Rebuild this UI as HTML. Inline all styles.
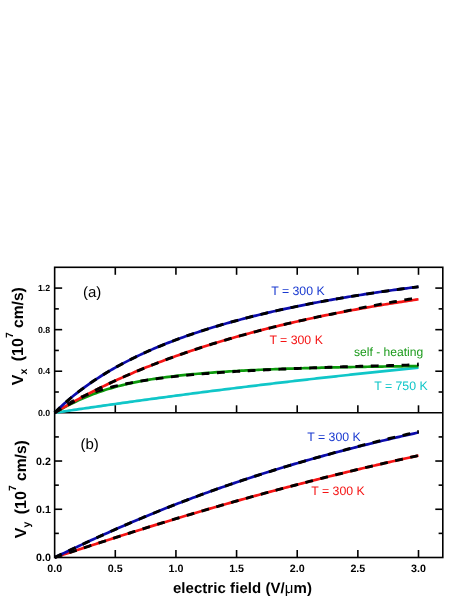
<!DOCTYPE html>
<html><head><meta charset="utf-8"><title>fig</title>
<style>html,body{margin:0;padding:0;background:#fff}svg{display:block;will-change:transform}text{font-family:"Liberation Sans",sans-serif;text-rendering:geometricPrecision}</style></head><body>
<svg width="471" height="610" viewBox="0 0 471 610">
<rect width="471" height="610" fill="#fff"/>
<line x1="54.65" y1="412.8" x2="442.8" y2="412.8" stroke="#000" stroke-width="1.6"/>
<g fill="none" stroke-linecap="butt" stroke-linejoin="round">
<path d="M54.65,412.80 L57.08,412.44 L59.50,412.08 L61.93,411.71 L64.35,411.35 L66.78,411.00 L69.20,410.64 L71.63,410.28 L74.06,409.92 L76.48,409.57 L78.91,409.21 L81.33,408.86 L83.76,408.50 L86.18,408.15 L88.61,407.80 L91.03,407.45 L93.46,407.10 L95.89,406.75 L98.31,406.40 L100.74,406.05 L103.16,405.71 L105.59,405.36 L108.01,405.02 L110.44,404.67 L112.87,404.33 L115.29,403.99 L117.72,403.64 L120.14,403.30 L122.57,402.96 L124.99,402.62 L127.42,402.29 L129.85,401.95 L132.27,401.61 L134.70,401.28 L137.12,400.94 L139.55,400.61 L141.97,400.27 L144.40,399.94 L146.83,399.61 L149.25,399.28 L151.68,398.95 L154.10,398.62 L156.53,398.29 L158.95,397.96 L161.38,397.64 L163.81,397.31 L166.23,396.98 L168.66,396.66 L171.08,396.34 L173.51,396.01 L175.93,395.69 L178.36,395.37 L180.78,395.05 L183.21,394.73 L185.64,394.41 L188.06,394.10 L190.49,393.78 L192.91,393.46 L195.34,393.15 L197.76,392.83 L200.19,392.52 L202.62,392.21 L205.04,391.89 L207.47,391.58 L209.89,391.27 L212.32,390.96 L214.74,390.66 L217.17,390.35 L219.60,390.04 L222.02,389.73 L224.45,389.43 L226.87,389.13 L229.30,388.82 L231.72,388.52 L234.15,388.22 L236.58,387.92 L239.00,387.62 L241.43,387.32 L243.85,387.02 L246.28,386.72 L248.70,386.42 L251.13,386.13 L253.55,385.83 L255.98,385.54 L258.41,385.24 L260.83,384.95 L263.26,384.66 L265.68,384.37 L268.11,384.08 L270.53,383.79 L272.96,383.50 L275.39,383.21 L277.81,382.93 L280.24,382.64 L282.66,382.35 L285.09,382.07 L287.51,381.79 L289.94,381.50 L292.37,381.22 L294.79,380.94 L297.22,380.66 L299.64,380.38 L302.07,380.10 L304.49,379.82 L306.92,379.55 L309.35,379.27 L311.77,379.00 L314.20,378.72 L316.62,378.45 L319.05,378.17 L321.47,377.90 L323.90,377.63 L326.32,377.36 L328.75,377.09 L331.18,376.82 L333.60,376.55 L336.03,376.29 L338.45,376.02 L340.88,375.76 L343.30,375.49 L345.73,375.23 L348.16,374.97 L350.58,374.70 L353.01,374.44 L355.43,374.18 L357.86,373.92 L360.28,373.66 L362.71,373.41 L365.14,373.15 L367.56,372.89 L369.99,372.64 L372.41,372.38 L374.84,372.13 L377.26,371.88 L379.69,371.62 L382.12,371.37 L384.54,371.12 L386.97,370.87 L389.39,370.62 L391.82,370.38 L394.24,370.13 L396.67,369.88 L399.09,369.64 L401.52,369.39 L403.95,369.15 L406.37,368.91 L408.80,368.66 L411.22,368.42 L413.65,368.18 L416.07,367.94 L418.50,367.70" stroke="#10c6c8" stroke-width="2.7"/>
<path d="M54.65,412.80 L57.08,411.43 L59.50,410.07 L61.93,408.73 L64.35,407.42 L66.78,406.13 L69.20,404.87 L71.63,403.64 L74.06,402.44 L76.48,401.27 L78.91,400.13 L81.33,399.03 L83.76,397.97 L86.18,396.94 L88.61,395.94 L91.03,394.97 L93.46,394.04 L95.89,393.13 L98.31,392.26 L100.74,391.42 L103.16,390.61 L105.59,389.83 L108.01,389.08 L110.44,388.35 L112.87,387.65 L115.29,386.97 L117.72,386.32 L120.14,385.69 L122.57,385.08 L124.99,384.50 L127.42,383.94 L129.85,383.39 L132.27,382.87 L134.70,382.36 L137.12,381.87 L139.55,381.40 L141.97,380.95 L144.40,380.51 L146.83,380.08 L149.25,379.67 L151.68,379.28 L154.10,378.89 L156.53,378.52 L158.95,378.16 L161.38,377.82 L163.81,377.48 L166.23,377.16 L168.66,376.84 L171.08,376.54 L173.51,376.25 L175.93,375.96 L178.36,375.68 L180.78,375.42 L183.21,375.16 L185.64,374.90 L188.06,374.66 L190.49,374.42 L192.91,374.19 L195.34,373.97 L197.76,373.75 L200.19,373.54 L202.62,373.34 L205.04,373.14 L207.47,372.94 L209.89,372.76 L212.32,372.57 L214.74,372.39 L217.17,372.22 L219.60,372.05 L222.02,371.89 L224.45,371.73 L226.87,371.57 L229.30,371.42 L231.72,371.27 L234.15,371.13 L236.58,370.99 L239.00,370.85 L241.43,370.72 L243.85,370.59 L246.28,370.47 L248.70,370.34 L251.13,370.22 L253.55,370.10 L255.98,369.99 L258.41,369.88 L260.83,369.77 L263.26,369.66 L265.68,369.56 L268.11,369.45 L270.53,369.36 L272.96,369.26 L275.39,369.16 L277.81,369.07 L280.24,368.98 L282.66,368.89 L285.09,368.80 L287.51,368.72 L289.94,368.64 L292.37,368.56 L294.79,368.48 L297.22,368.40 L299.64,368.32 L302.07,368.25 L304.49,368.18 L306.92,368.11 L309.35,368.04 L311.77,367.97 L314.20,367.90 L316.62,367.84 L319.05,367.78 L321.47,367.71 L323.90,367.65 L326.32,367.59 L328.75,367.54 L331.18,367.48 L333.60,367.42 L336.03,367.37 L338.45,367.32 L340.88,367.26 L343.30,367.21 L345.73,367.16 L348.16,367.11 L350.58,367.07 L353.01,367.02 L355.43,366.98 L357.86,366.93 L360.28,366.89 L362.71,366.84 L365.14,366.80 L367.56,366.76 L369.99,366.72 L372.41,366.68 L374.84,366.65 L377.26,366.61 L379.69,366.57 L382.12,366.54 L384.54,366.50 L386.97,366.47 L389.39,366.44 L391.82,366.41 L394.24,366.37 L396.67,366.34 L399.09,366.31 L401.52,366.29 L403.95,366.26 L406.37,366.23 L408.80,366.20 L411.22,366.18 L413.65,366.15 L416.07,366.13 L418.50,366.10" stroke="#0c9a0c" stroke-width="2.7"/>
<path d="M54.65,412.80 L57.08,410.96 L59.50,409.22 L61.93,407.57 L64.35,406.01 L66.78,404.53 L69.20,403.14 L71.63,401.81 L74.06,400.55 L76.48,399.36 L78.91,398.23 L81.33,397.15 L83.76,396.12 L86.18,395.13 L88.61,394.20 L91.03,393.30 L93.46,392.45 L95.89,391.63 L98.31,390.85 L100.74,390.10 L103.16,389.37 L105.59,388.68 L108.01,388.02 L110.44,387.38 L112.87,386.77 L115.29,386.18 L117.72,385.61 L120.14,385.06 L122.57,384.53 L124.99,384.02 L127.42,383.53 L129.85,383.05 L132.27,382.59 L134.70,382.15 L137.12,381.72 L139.55,381.30 L141.97,380.90 L144.40,380.51 L146.83,380.13 L149.25,379.77 L151.68,379.41 L154.10,379.07 L156.53,378.73 L158.95,378.41 L161.38,378.09 L163.81,377.78 L166.23,377.48 L168.66,377.19 L171.08,376.91 L173.51,376.64 L175.93,376.37 L178.36,376.11 L180.78,375.86 L183.21,375.61 L185.64,375.37 L188.06,375.13 L190.49,374.90 L192.91,374.68 L195.34,374.46 L197.76,374.25 L200.19,374.04 L202.62,373.84 L205.04,373.64 L207.47,373.44 L209.89,373.25 L212.32,373.07 L214.74,372.89 L217.17,372.71 L219.60,372.53 L222.02,372.36 L224.45,372.20 L226.87,372.04 L229.30,371.88 L231.72,371.72 L234.15,371.57 L236.58,371.42 L239.00,371.27 L241.43,371.13 L243.85,370.98 L246.28,370.84 L248.70,370.71 L251.13,370.58 L253.55,370.44 L255.98,370.32 L258.41,370.19 L260.83,370.06 L263.26,369.94 L265.68,369.82 L268.11,369.71 L270.53,369.59 L272.96,369.48 L275.39,369.36 L277.81,369.25 L280.24,369.15 L282.66,369.04 L285.09,368.93 L287.51,368.83 L289.94,368.73 L292.37,368.63 L294.79,368.53 L297.22,368.43 L299.64,368.34 L302.07,368.24 L304.49,368.15 L306.92,368.06 L309.35,367.97 L311.77,367.88 L314.20,367.79 L316.62,367.71 L319.05,367.62 L321.47,367.54 L323.90,367.45 L326.32,367.37 L328.75,367.29 L331.18,367.21 L333.60,367.13 L336.03,367.05 L338.45,366.97 L340.88,366.90 L343.30,366.82 L345.73,366.75 L348.16,366.67 L350.58,366.60 L353.01,366.53 L355.43,366.45 L357.86,366.38 L360.28,366.31 L362.71,366.24 L365.14,366.17 L367.56,366.10 L369.99,366.04 L372.41,365.97 L374.84,365.90 L377.26,365.84 L379.69,365.77 L382.12,365.71 L384.54,365.64 L386.97,365.58 L389.39,365.51 L391.82,365.45 L394.24,365.39 L396.67,365.33 L399.09,365.26 L401.52,365.20 L403.95,365.14 L406.37,365.08 L408.80,365.02 L411.22,364.96 L413.65,364.90 L416.07,364.84 L418.50,364.78" stroke="#000" stroke-width="2.9" stroke-dasharray="7.8 7.6" stroke-dashoffset="0.00"/>
<path d="M54.65,412.80 L57.08,411.33 L59.50,409.88 L61.93,408.45 L64.35,407.03 L66.78,405.63 L69.20,404.24 L71.63,402.87 L74.06,401.52 L76.48,400.18 L78.91,398.85 L81.33,397.54 L83.76,396.25 L86.18,394.97 L88.61,393.70 L91.03,392.45 L93.46,391.21 L95.89,389.99 L98.31,388.78 L100.74,387.58 L103.16,386.40 L105.59,385.22 L108.01,384.07 L110.44,382.92 L112.87,381.79 L115.29,380.66 L117.72,379.55 L120.14,378.46 L122.57,377.37 L124.99,376.29 L127.42,375.23 L129.85,374.18 L132.27,373.14 L134.70,372.10 L137.12,371.08 L139.55,370.07 L141.97,369.07 L144.40,368.08 L146.83,367.11 L149.25,366.14 L151.68,365.18 L154.10,364.23 L156.53,363.28 L158.95,362.35 L161.38,361.43 L163.81,360.52 L166.23,359.61 L168.66,358.72 L171.08,357.83 L173.51,356.95 L175.93,356.09 L178.36,355.22 L180.78,354.37 L183.21,353.53 L185.64,352.69 L188.06,351.86 L190.49,351.04 L192.91,350.23 L195.34,349.42 L197.76,348.63 L200.19,347.84 L202.62,347.05 L205.04,346.28 L207.47,345.51 L209.89,344.75 L212.32,343.99 L214.74,343.25 L217.17,342.50 L219.60,341.77 L222.02,341.04 L224.45,340.32 L226.87,339.61 L229.30,338.90 L231.72,338.20 L234.15,337.51 L236.58,336.82 L239.00,336.13 L241.43,335.46 L243.85,334.79 L246.28,334.12 L248.70,333.47 L251.13,332.81 L253.55,332.17 L255.98,331.53 L258.41,330.89 L260.83,330.26 L263.26,329.64 L265.68,329.02 L268.11,328.40 L270.53,327.80 L272.96,327.19 L275.39,326.60 L277.81,326.00 L280.24,325.42 L282.66,324.84 L285.09,324.26 L287.51,323.69 L289.94,323.12 L292.37,322.56 L294.79,322.00 L297.22,321.45 L299.64,320.90 L302.07,320.36 L304.49,319.82 L306.92,319.29 L309.35,318.76 L311.77,318.24 L314.20,317.72 L316.62,317.20 L319.05,316.69 L321.47,316.19 L323.90,315.69 L326.32,315.19 L328.75,314.70 L331.18,314.21 L333.60,313.72 L336.03,313.24 L338.45,312.77 L340.88,312.30 L343.30,311.83 L345.73,311.37 L348.16,310.91 L350.58,310.45 L353.01,310.00 L355.43,309.56 L357.86,309.11 L360.28,308.67 L362.71,308.24 L365.14,307.81 L367.56,307.38 L369.99,306.96 L372.41,306.54 L374.84,306.12 L377.26,305.71 L379.69,305.30 L382.12,304.90 L384.54,304.50 L386.97,304.10 L389.39,303.71 L391.82,303.32 L394.24,302.93 L396.67,302.55 L399.09,302.17 L401.52,301.80 L403.95,301.42 L406.37,301.06 L408.80,300.69 L411.22,300.33 L413.65,299.97 L416.07,299.62 L418.50,299.27" stroke="#f51414" stroke-width="2.7"/>
<path d="M54.65,412.80 L57.08,411.33 L59.50,409.88 L61.93,408.45 L64.35,407.03 L66.78,405.63 L69.20,404.24 L71.63,402.87 L74.06,401.52 L76.48,400.18 L78.91,398.85 L81.33,397.54 L83.76,396.25 L86.18,394.97 L88.61,393.70 L91.03,392.45 L93.46,391.21 L95.89,389.99 L98.31,388.78 L100.74,387.58 L103.16,386.40 L105.59,385.22 L108.01,384.07 L110.44,382.92 L112.87,381.79 L115.29,380.66 L117.72,379.55 L120.14,378.46 L122.57,377.37 L124.99,376.29 L127.42,375.23 L129.85,374.18 L132.27,373.14 L134.70,372.10 L137.12,371.08 L139.55,370.07 L141.97,369.07 L144.40,368.08 L146.83,367.11 L149.25,366.14 L151.68,365.18 L154.10,364.23 L156.53,363.28 L158.95,362.35 L161.38,361.43 L163.81,360.52 L166.23,359.61 L168.66,358.72 L171.08,357.83 L173.51,356.95 L175.93,356.09 L178.36,355.22 L180.78,354.37 L183.21,353.53 L185.64,352.69 L188.06,351.86 L190.49,351.04 L192.91,350.23 L195.34,349.42 L197.76,348.63 L200.19,347.84 L202.62,347.05 L205.04,346.28 L207.47,345.51 L209.89,344.75 L212.32,343.99 L214.74,343.25 L217.17,342.50 L219.60,341.77 L222.02,341.04 L224.45,340.32 L226.87,339.61 L229.30,338.90 L231.72,338.20 L234.15,337.51 L236.58,336.82 L239.00,336.13 L241.43,335.46 L243.85,334.79 L246.28,334.12 L248.70,333.47 L251.13,332.81 L253.55,332.17 L255.98,331.53 L258.41,330.89 L260.83,330.26 L263.26,329.64 L265.68,329.02 L268.11,328.40 L270.53,327.80 L272.96,327.19 L275.39,326.60 L277.81,326.00 L280.24,325.42 L282.66,324.84 L285.09,324.26 L287.51,323.69 L289.94,323.12 L292.37,322.56 L294.79,322.00 L297.22,321.45 L299.64,320.90 L302.07,320.36 L304.49,319.82 L306.92,319.29 L309.35,318.76 L311.77,318.24 L314.20,317.72 L316.62,317.20 L319.05,316.69 L321.47,316.19 L323.90,315.69 L326.32,315.19 L328.75,314.70 L331.18,314.21 L333.60,313.72 L336.03,313.20 L338.45,312.67 L340.88,312.15 L343.30,311.64 L345.73,311.13 L348.16,310.62 L350.58,310.12 L353.01,309.62 L355.43,309.13 L357.86,308.64 L360.28,308.15 L362.71,307.67 L365.14,307.19 L367.56,306.72 L369.99,306.24 L372.41,305.78 L374.84,305.31 L377.26,304.86 L379.69,304.40 L382.12,303.95 L384.54,303.50 L386.97,303.06 L389.39,302.61 L391.82,302.18 L394.24,301.74 L396.67,301.31 L399.09,300.89 L401.52,300.47 L403.95,300.05 L406.37,299.63 L408.80,299.22 L411.22,298.81 L413.65,298.41 L416.07,298.00 L418.50,297.61" stroke="#000" stroke-width="2.9" stroke-dasharray="7.8 7.6" stroke-dashoffset="0.00"/>
<path d="M54.65,412.80 L57.08,410.37 L59.50,408.02 L61.93,405.74 L64.35,403.53 L66.78,401.39 L69.20,399.30 L71.63,397.26 L74.06,395.27 L76.48,393.34 L78.91,391.45 L81.33,389.61 L83.76,387.81 L86.18,386.05 L88.61,384.32 L91.03,382.64 L93.46,380.99 L95.89,379.38 L98.31,377.80 L100.74,376.25 L103.16,374.74 L105.59,373.25 L108.01,371.79 L110.44,370.37 L112.87,368.96 L115.29,367.59 L117.72,366.24 L120.14,364.91 L122.57,363.61 L124.99,362.34 L127.42,361.08 L129.85,359.85 L132.27,358.63 L134.70,357.44 L137.12,356.27 L139.55,355.12 L141.97,353.98 L144.40,352.87 L146.83,351.77 L149.25,350.69 L151.68,349.63 L154.10,348.58 L156.53,347.55 L158.95,346.54 L161.38,345.54 L163.81,344.56 L166.23,343.59 L168.66,342.63 L171.08,341.69 L173.51,340.76 L175.93,339.85 L178.36,338.95 L180.78,338.06 L183.21,337.19 L185.64,336.32 L188.06,335.47 L190.49,334.63 L192.91,333.80 L195.34,332.98 L197.76,332.18 L200.19,331.38 L202.62,330.59 L205.04,329.82 L207.47,329.05 L209.89,328.30 L212.32,327.55 L214.74,326.81 L217.17,326.09 L219.60,325.37 L222.02,324.66 L224.45,323.96 L226.87,323.26 L229.30,322.58 L231.72,321.90 L234.15,321.24 L236.58,320.58 L239.00,319.93 L241.43,319.28 L243.85,318.64 L246.28,318.01 L248.70,317.39 L251.13,316.78 L253.55,316.17 L255.98,315.57 L258.41,314.97 L260.83,314.39 L263.26,313.81 L265.68,313.23 L268.11,312.66 L270.53,312.10 L272.96,311.55 L275.39,311.00 L277.81,310.45 L280.24,309.91 L282.66,309.38 L285.09,308.85 L287.51,308.33 L289.94,307.82 L292.37,307.31 L294.79,306.80 L297.22,306.30 L299.64,305.81 L302.07,305.32 L304.49,304.84 L306.92,304.36 L309.35,303.88 L311.77,303.42 L314.20,302.95 L316.62,302.49 L319.05,302.04 L321.47,301.59 L323.90,301.14 L326.32,300.70 L328.75,300.26 L331.18,299.83 L333.60,299.40 L336.03,298.98 L338.45,298.56 L340.88,298.14 L343.30,297.73 L345.73,297.32 L348.16,296.92 L350.58,296.52 L353.01,296.12 L355.43,295.73 L357.86,295.34 L360.28,294.96 L362.71,294.58 L365.14,294.20 L367.56,293.83 L369.99,293.46 L372.41,293.09 L374.84,292.73 L377.26,292.37 L379.69,292.01 L382.12,291.66 L384.54,291.31 L386.97,290.97 L389.39,290.62 L391.82,290.28 L394.24,289.95 L396.67,289.62 L399.09,289.29 L401.52,288.96 L403.95,288.64 L406.37,288.32 L408.80,288.00 L411.22,287.69 L413.65,287.38 L416.07,287.07 L418.50,286.76" stroke="#0c0cac" stroke-width="2.7"/>
<path d="M54.65,412.80 L57.08,410.37 L59.50,408.02 L61.93,405.74 L64.35,403.53 L66.78,401.39 L69.20,399.30 L71.63,397.26 L74.06,395.27 L76.48,393.34 L78.91,391.45 L81.33,389.61 L83.76,387.81 L86.18,386.05 L88.61,384.32 L91.03,382.64 L93.46,380.99 L95.89,379.38 L98.31,377.80 L100.74,376.25 L103.16,374.74 L105.59,373.25 L108.01,371.79 L110.44,370.37 L112.87,368.96 L115.29,367.59 L117.72,366.24 L120.14,364.91 L122.57,363.61 L124.99,362.34 L127.42,361.08 L129.85,359.85 L132.27,358.63 L134.70,357.44 L137.12,356.27 L139.55,355.12 L141.97,353.98 L144.40,352.87 L146.83,351.77 L149.25,350.69 L151.68,349.63 L154.10,348.58 L156.53,347.55 L158.95,346.54 L161.38,345.54 L163.81,344.56 L166.23,343.59 L168.66,342.63 L171.08,341.69 L173.51,340.76 L175.93,339.85 L178.36,338.95 L180.78,338.06 L183.21,337.19 L185.64,336.32 L188.06,335.47 L190.49,334.63 L192.91,333.80 L195.34,332.98 L197.76,332.18 L200.19,331.38 L202.62,330.59 L205.04,329.82 L207.47,329.05 L209.89,328.30 L212.32,327.55 L214.74,326.81 L217.17,326.09 L219.60,325.37 L222.02,324.66 L224.45,323.96 L226.87,323.26 L229.30,322.58 L231.72,321.90 L234.15,321.24 L236.58,320.58 L239.00,319.93 L241.43,319.28 L243.85,318.64 L246.28,318.01 L248.70,317.39 L251.13,316.78 L253.55,316.17 L255.98,315.57 L258.41,314.97 L260.83,314.39 L263.26,313.81 L265.68,313.23 L268.11,312.66 L270.53,312.10 L272.96,311.55 L275.39,311.00 L277.81,310.45 L280.24,309.91 L282.66,309.38 L285.09,308.85 L287.51,308.33 L289.94,307.82 L292.37,307.31 L294.79,306.80 L297.22,306.30 L299.64,305.81 L302.07,305.32 L304.49,304.84 L306.92,304.36 L309.35,303.88 L311.77,303.42 L314.20,302.95 L316.62,302.49 L319.05,302.04 L321.47,301.59 L323.90,301.14 L326.32,300.70 L328.75,300.26 L331.18,299.83 L333.60,299.40 L336.03,298.98 L338.45,298.56 L340.88,298.14 L343.30,297.73 L345.73,297.32 L348.16,296.92 L350.58,296.52 L353.01,296.12 L355.43,295.73 L357.86,295.34 L360.28,294.96 L362.71,294.58 L365.14,294.20 L367.56,293.83 L369.99,293.46 L372.41,293.09 L374.84,292.73 L377.26,292.37 L379.69,292.01 L382.12,291.66 L384.54,291.31 L386.97,290.97 L389.39,290.62 L391.82,290.28 L394.24,289.95 L396.67,289.62 L399.09,289.29 L401.52,288.96 L403.95,288.64 L406.37,288.32 L408.80,288.00 L411.22,287.69 L413.65,287.38 L416.07,287.07 L418.50,286.76" stroke="#000" stroke-width="2.9" stroke-dasharray="7.8 7.6" stroke-dashoffset="0.00"/>
<path d="M54.65,557.50 L57.08,556.69 L59.50,555.89 L61.93,555.08 L64.35,554.28 L66.78,553.47 L69.20,552.67 L71.63,551.87 L74.06,551.07 L76.48,550.27 L78.91,549.47 L81.33,548.67 L83.76,547.87 L86.18,547.08 L88.61,546.28 L91.03,545.49 L93.46,544.70 L95.89,543.91 L98.31,543.12 L100.74,542.33 L103.16,541.54 L105.59,540.76 L108.01,539.97 L110.44,539.19 L112.87,538.41 L115.29,537.63 L117.72,536.86 L120.14,536.08 L122.57,535.31 L124.99,534.53 L127.42,533.76 L129.85,533.00 L132.27,532.23 L134.70,531.46 L137.12,530.70 L139.55,529.94 L141.97,529.18 L144.40,528.42 L146.83,527.66 L149.25,526.91 L151.68,526.15 L154.10,525.40 L156.53,524.65 L158.95,523.91 L161.38,523.16 L163.81,522.42 L166.23,521.67 L168.66,520.93 L171.08,520.20 L173.51,519.46 L175.93,518.73 L178.36,517.99 L180.78,517.26 L183.21,516.54 L185.64,515.81 L188.06,515.08 L190.49,514.36 L192.91,513.64 L195.34,512.92 L197.76,512.21 L200.19,511.49 L202.62,510.78 L205.04,510.07 L207.47,509.36 L209.89,508.66 L212.32,507.95 L214.74,507.25 L217.17,506.55 L219.60,505.85 L222.02,505.15 L224.45,504.46 L226.87,503.77 L229.30,503.08 L231.72,502.39 L234.15,501.70 L236.58,501.02 L239.00,500.34 L241.43,499.66 L243.85,498.98 L246.28,498.30 L248.70,497.63 L251.13,496.96 L253.55,496.29 L255.98,495.62 L258.41,494.96 L260.83,494.29 L263.26,493.63 L265.68,492.97 L268.11,492.32 L270.53,491.66 L272.96,491.01 L275.39,490.36 L277.81,489.71 L280.24,489.06 L282.66,488.42 L285.09,487.78 L287.51,487.14 L289.94,486.50 L292.37,485.86 L294.79,485.23 L297.22,484.59 L299.64,483.96 L302.07,483.34 L304.49,482.71 L306.92,482.09 L309.35,481.46 L311.77,480.84 L314.20,480.23 L316.62,479.61 L319.05,479.00 L321.47,478.39 L323.90,477.78 L326.32,477.17 L328.75,476.56 L331.18,475.96 L333.60,475.36 L336.03,474.76 L338.45,474.16 L340.88,473.57 L343.30,472.97 L345.73,472.38 L348.16,471.79 L350.58,471.20 L353.01,470.62 L355.43,470.03 L357.86,469.45 L360.28,468.87 L362.71,468.30 L365.14,467.72 L367.56,467.15 L369.99,466.58 L372.41,466.01 L374.84,465.44 L377.26,464.87 L379.69,464.31 L382.12,463.75 L384.54,463.19 L386.97,462.63 L389.39,462.07 L391.82,461.52 L394.24,460.97 L396.67,460.42 L399.09,459.87 L401.52,459.32 L403.95,458.78 L406.37,458.24 L408.80,457.70 L411.22,457.16 L413.65,456.62 L416.07,456.09 L418.50,455.55" stroke="#f51414" stroke-width="2.7"/>
<path d="M54.65,557.50 L57.08,556.69 L59.50,555.89 L61.93,555.08 L64.35,554.28 L66.78,553.47 L69.20,552.67 L71.63,551.87 L74.06,551.07 L76.48,550.27 L78.91,549.47 L81.33,548.67 L83.76,547.87 L86.18,547.08 L88.61,546.28 L91.03,545.49 L93.46,544.70 L95.89,543.91 L98.31,543.12 L100.74,542.33 L103.16,541.54 L105.59,540.76 L108.01,539.97 L110.44,539.19 L112.87,538.41 L115.29,537.63 L117.72,536.86 L120.14,536.08 L122.57,535.31 L124.99,534.53 L127.42,533.76 L129.85,533.00 L132.27,532.23 L134.70,531.46 L137.12,530.70 L139.55,529.94 L141.97,529.18 L144.40,528.42 L146.83,527.66 L149.25,526.91 L151.68,526.15 L154.10,525.40 L156.53,524.65 L158.95,523.91 L161.38,523.16 L163.81,522.42 L166.23,521.67 L168.66,520.93 L171.08,520.20 L173.51,519.46 L175.93,518.73 L178.36,517.99 L180.78,517.26 L183.21,516.54 L185.64,515.81 L188.06,515.08 L190.49,514.36 L192.91,513.64 L195.34,512.92 L197.76,512.21 L200.19,511.49 L202.62,510.78 L205.04,510.07 L207.47,509.36 L209.89,508.66 L212.32,507.95 L214.74,507.25 L217.17,506.55 L219.60,505.85 L222.02,505.15 L224.45,504.46 L226.87,503.77 L229.30,503.08 L231.72,502.39 L234.15,501.70 L236.58,501.02 L239.00,500.34 L241.43,499.66 L243.85,498.98 L246.28,498.30 L248.70,497.63 L251.13,496.96 L253.55,496.29 L255.98,495.62 L258.41,494.96 L260.83,494.29 L263.26,493.63 L265.68,492.97 L268.11,492.32 L270.53,491.66 L272.96,491.01 L275.39,490.36 L277.81,489.71 L280.24,489.06 L282.66,488.42 L285.09,487.78 L287.51,487.14 L289.94,486.50 L292.37,485.86 L294.79,485.23 L297.22,484.59 L299.64,483.96 L302.07,483.34 L304.49,482.71 L306.92,482.09 L309.35,481.46 L311.77,480.84 L314.20,480.23 L316.62,479.61 L319.05,479.00 L321.47,478.39 L323.90,477.78 L326.32,477.17 L328.75,476.56 L331.18,475.96 L333.60,475.36 L336.03,474.76 L338.45,474.16 L340.88,473.57 L343.30,472.97 L345.73,472.38 L348.16,471.79 L350.58,471.20 L353.01,470.62 L355.43,470.03 L357.86,469.45 L360.28,468.87 L362.71,468.30 L365.14,467.72 L367.56,467.15 L369.99,466.58 L372.41,466.01 L374.84,465.44 L377.26,464.87 L379.69,464.31 L382.12,463.75 L384.54,463.19 L386.97,462.63 L389.39,462.07 L391.82,461.52 L394.24,460.97 L396.67,460.42 L399.09,459.87 L401.52,459.32 L403.95,458.78 L406.37,458.24 L408.80,457.70 L411.22,457.16 L413.65,456.62 L416.07,456.09 L418.50,455.55" stroke="#000" stroke-width="2.9" stroke-dasharray="7.8 7.6" stroke-dashoffset="0.00"/>
<path d="M54.65,557.50 L57.08,556.34 L59.50,555.17 L61.93,554.01 L64.35,552.86 L66.78,551.70 L69.20,550.55 L71.63,549.40 L74.06,548.26 L76.48,547.12 L78.91,545.98 L81.33,544.85 L83.76,543.72 L86.18,542.59 L88.61,541.47 L91.03,540.35 L93.46,539.24 L95.89,538.13 L98.31,537.03 L100.74,535.93 L103.16,534.83 L105.59,533.74 L108.01,532.66 L110.44,531.58 L112.87,530.50 L115.29,529.43 L117.72,528.36 L120.14,527.30 L122.57,526.25 L124.99,525.19 L127.42,524.15 L129.85,523.11 L132.27,522.07 L134.70,521.04 L137.12,520.01 L139.55,518.99 L141.97,517.97 L144.40,516.96 L146.83,515.95 L149.25,514.95 L151.68,513.96 L154.10,512.97 L156.53,511.98 L158.95,511.00 L161.38,510.02 L163.81,509.05 L166.23,508.09 L168.66,507.13 L171.08,506.17 L173.51,505.22 L175.93,504.28 L178.36,503.34 L180.78,502.40 L183.21,501.47 L185.64,500.55 L188.06,499.63 L190.49,498.71 L192.91,497.80 L195.34,496.90 L197.76,496.00 L200.19,495.10 L202.62,494.21 L205.04,493.33 L207.47,492.45 L209.89,491.58 L212.32,490.71 L214.74,489.84 L217.17,488.98 L219.60,488.13 L222.02,487.28 L224.45,486.43 L226.87,485.59 L229.30,484.75 L231.72,483.92 L234.15,483.10 L236.58,482.27 L239.00,481.46 L241.43,480.64 L243.85,479.84 L246.28,479.03 L248.70,478.24 L251.13,477.44 L253.55,476.65 L255.98,475.87 L258.41,475.09 L260.83,474.31 L263.26,473.54 L265.68,472.78 L268.11,472.01 L270.53,471.26 L272.96,470.50 L275.39,469.75 L277.81,469.01 L280.24,468.27 L282.66,467.53 L285.09,466.80 L287.51,466.08 L289.94,465.35 L292.37,464.63 L294.79,463.92 L297.22,463.21 L299.64,462.50 L302.07,461.80 L304.49,461.10 L306.92,460.41 L309.35,459.72 L311.77,459.03 L314.20,458.35 L316.62,457.67 L319.05,457.00 L321.47,456.33 L323.90,455.67 L326.32,455.00 L328.75,454.35 L331.18,453.69 L333.60,453.04 L336.03,452.39 L338.45,451.75 L340.88,451.11 L343.30,450.48 L345.73,449.85 L348.16,449.22 L350.58,448.59 L353.01,447.97 L355.43,447.36 L357.86,446.74 L360.28,446.13 L362.71,445.53 L365.14,444.92 L367.56,444.33 L369.99,443.73 L372.41,443.14 L374.84,442.55 L377.26,441.96 L379.69,441.38 L382.12,440.80 L384.54,440.23 L386.97,439.66 L389.39,439.09 L391.82,438.52 L394.24,437.96 L396.67,437.40 L399.09,436.85 L401.52,436.29 L403.95,435.75 L406.37,435.20 L408.80,434.66 L411.22,434.12 L413.65,433.58 L416.07,433.05 L418.50,432.52" stroke="#0c0cac" stroke-width="2.7"/>
<path d="M54.65,557.50 L57.08,556.34 L59.50,555.17 L61.93,554.01 L64.35,552.86 L66.78,551.70 L69.20,550.55 L71.63,549.40 L74.06,548.26 L76.48,547.12 L78.91,545.98 L81.33,544.85 L83.76,543.72 L86.18,542.59 L88.61,541.47 L91.03,540.35 L93.46,539.24 L95.89,538.13 L98.31,537.03 L100.74,535.93 L103.16,534.83 L105.59,533.74 L108.01,532.66 L110.44,531.58 L112.87,530.50 L115.29,529.43 L117.72,528.36 L120.14,527.30 L122.57,526.25 L124.99,525.19 L127.42,524.15 L129.85,523.11 L132.27,522.07 L134.70,521.04 L137.12,520.01 L139.55,518.99 L141.97,517.97 L144.40,516.96 L146.83,515.95 L149.25,514.95 L151.68,513.96 L154.10,512.97 L156.53,511.98 L158.95,511.00 L161.38,510.02 L163.81,509.05 L166.23,508.09 L168.66,507.13 L171.08,506.17 L173.51,505.22 L175.93,504.28 L178.36,503.34 L180.78,502.40 L183.21,501.47 L185.64,500.55 L188.06,499.63 L190.49,498.71 L192.91,497.80 L195.34,496.90 L197.76,496.00 L200.19,495.10 L202.62,494.21 L205.04,493.33 L207.47,492.45 L209.89,491.58 L212.32,490.71 L214.74,489.84 L217.17,488.98 L219.60,488.13 L222.02,487.28 L224.45,486.43 L226.87,485.59 L229.30,484.75 L231.72,483.92 L234.15,483.10 L236.58,482.27 L239.00,481.46 L241.43,480.64 L243.85,479.84 L246.28,479.03 L248.70,478.24 L251.13,477.44 L253.55,476.65 L255.98,475.87 L258.41,475.09 L260.83,474.31 L263.26,473.54 L265.68,472.78 L268.11,472.01 L270.53,471.26 L272.96,470.50 L275.39,469.75 L277.81,469.01 L280.24,468.27 L282.66,467.53 L285.09,466.80 L287.51,466.08 L289.94,465.35 L292.37,464.63 L294.79,463.92 L297.22,463.21 L299.64,462.50 L302.07,461.80 L304.49,461.10 L306.92,460.41 L309.35,459.72 L311.77,459.03 L314.20,458.35 L316.62,457.67 L319.05,457.00 L321.47,456.33 L323.90,455.65 L326.32,454.96 L328.75,454.28 L331.18,453.61 L333.60,452.94 L336.03,452.27 L338.45,451.61 L340.88,450.95 L343.30,450.29 L345.73,449.64 L348.16,448.99 L350.58,448.35 L353.01,447.71 L355.43,447.07 L357.86,446.44 L360.28,445.81 L362.71,445.18 L365.14,444.56 L367.56,443.94 L369.99,443.32 L372.41,442.71 L374.84,442.10 L377.26,441.49 L379.69,440.89 L382.12,440.29 L384.54,439.70 L386.97,439.10 L389.39,438.51 L391.82,437.93 L394.24,437.35 L396.67,436.77 L399.09,436.19 L401.52,435.62 L403.95,435.05 L406.37,434.48 L408.80,433.92 L411.22,433.36 L413.65,432.80 L416.07,432.25 L418.50,431.70" stroke="#000" stroke-width="2.9" stroke-dasharray="7.8 7.6" stroke-dashoffset="0.00"/>
<line x1="418" y1="362.6" x2="418" y2="366" stroke="#000" stroke-width="1.2"/>
<line x1="418.1" y1="430.3" x2="418.1" y2="433.4" stroke="#000" stroke-width="1.4"/>
</g>
<g stroke="#000" stroke-width="1.6" fill="none" stroke-linecap="butt">
<rect x="54.65" y="267.3" width="388.15" height="290.20"/>
<line x1="115.29" y1="267.3" x2="115.29" y2="274.8"/>
<line x1="115.29" y1="405.3" x2="115.29" y2="412.8"/>
<line x1="115.29" y1="557.5" x2="115.29" y2="550.0"/>
<line x1="175.93" y1="267.3" x2="175.93" y2="274.8"/>
<line x1="175.93" y1="405.3" x2="175.93" y2="412.8"/>
<line x1="175.93" y1="557.5" x2="175.93" y2="550.0"/>
<line x1="236.58" y1="267.3" x2="236.58" y2="274.8"/>
<line x1="236.58" y1="405.3" x2="236.58" y2="412.8"/>
<line x1="236.58" y1="557.5" x2="236.58" y2="550.0"/>
<line x1="297.22" y1="267.3" x2="297.22" y2="274.8"/>
<line x1="297.22" y1="405.3" x2="297.22" y2="412.8"/>
<line x1="297.22" y1="557.5" x2="297.22" y2="550.0"/>
<line x1="357.86" y1="267.3" x2="357.86" y2="274.8"/>
<line x1="357.86" y1="405.3" x2="357.86" y2="412.8"/>
<line x1="357.86" y1="557.5" x2="357.86" y2="550.0"/>
<line x1="418.50" y1="267.3" x2="418.50" y2="274.8"/>
<line x1="418.50" y1="405.3" x2="418.50" y2="412.8"/>
<line x1="418.50" y1="557.5" x2="418.50" y2="550.0"/>
<line x1="54.65" y1="392.01" x2="58.85" y2="392.01"/>
<line x1="442.8" y1="392.01" x2="438.6" y2="392.01"/>
<line x1="54.65" y1="371.23" x2="62.15" y2="371.23"/>
<line x1="442.8" y1="371.23" x2="435.3" y2="371.23"/>
<line x1="54.65" y1="350.44" x2="58.85" y2="350.44"/>
<line x1="442.8" y1="350.44" x2="438.6" y2="350.44"/>
<line x1="54.65" y1="329.66" x2="62.15" y2="329.66"/>
<line x1="442.8" y1="329.66" x2="435.3" y2="329.66"/>
<line x1="54.65" y1="308.87" x2="58.85" y2="308.87"/>
<line x1="442.8" y1="308.87" x2="438.6" y2="308.87"/>
<line x1="54.65" y1="288.09" x2="62.15" y2="288.09"/>
<line x1="442.8" y1="288.09" x2="435.3" y2="288.09"/>
<line x1="54.65" y1="533.38" x2="58.85" y2="533.38"/>
<line x1="442.8" y1="533.38" x2="438.6" y2="533.38"/>
<line x1="54.65" y1="509.27" x2="62.15" y2="509.27"/>
<line x1="442.8" y1="509.27" x2="435.3" y2="509.27"/>
<line x1="54.65" y1="485.15" x2="58.85" y2="485.15"/>
<line x1="442.8" y1="485.15" x2="438.6" y2="485.15"/>
<line x1="54.65" y1="461.03" x2="62.15" y2="461.03"/>
<line x1="442.8" y1="461.03" x2="435.3" y2="461.03"/>
<line x1="54.65" y1="436.92" x2="58.85" y2="436.92"/>
<line x1="442.8" y1="436.92" x2="438.6" y2="436.92"/>
</g>
<g font-weight="bold" fill="#000">
<text x="50.2" y="415.80" font-size="8.8" text-anchor="end">0.0</text>
<text x="50.2" y="374.23" font-size="8.8" text-anchor="end">0.4</text>
<text x="50.2" y="332.66" font-size="8.8" text-anchor="end">0.8</text>
<text x="50.2" y="291.09" font-size="8.8" text-anchor="end">1.2</text>
<text x="50.9" y="561.10" font-size="10.7" text-anchor="end">0.0</text>
<text x="50.9" y="512.87" font-size="10.7" text-anchor="end">0.1</text>
<text x="50.9" y="464.63" font-size="10.7" text-anchor="end">0.2</text>
<text x="54.65" y="572.3" font-size="10.7" text-anchor="middle">0.0</text>
<text x="115.29" y="572.3" font-size="10.7" text-anchor="middle">0.5</text>
<text x="175.93" y="572.3" font-size="10.7" text-anchor="middle">1.0</text>
<text x="236.58" y="572.3" font-size="10.7" text-anchor="middle">1.5</text>
<text x="297.22" y="572.3" font-size="10.7" text-anchor="middle">2.0</text>
<text x="357.86" y="572.3" font-size="10.7" text-anchor="middle">2.5</text>
<text x="418.50" y="572.3" font-size="10.7" text-anchor="middle">3.0</text>
<text x="172.9" y="593" font-size="15" textLength="139" lengthAdjust="spacing">electric field (V/<tspan font-weight="normal">μ</tspan>m)</text>
<text transform="translate(23.2,385.2) rotate(-90)" font-size="16">V<tspan font-size="10.5" dy="4">x</tspan><tspan dy="-4" dx="3"> (10</tspan><tspan font-size="10.5" dy="-10.2">7</tspan><tspan dy="10.2" font-size="15.6"> cm/s)</tspan></text>
<text transform="translate(26.2,538.2) rotate(-90)" font-size="16">V<tspan font-size="10.5" dy="4">y</tspan><tspan dy="-4" dx="3"> (10</tspan><tspan font-size="10.5" dy="-10.2">7</tspan><tspan dy="10.2" font-size="15.6"> cm/s)</tspan></text>
</g>
<g font-size="12.3">
<text x="271.2" y="294.9" fill="#1a3ad0">T = 300 K</text>
<text x="269.4" y="344.4" fill="#f51414">T = 300 K</text>
<text x="354" y="356" fill="#1a9a1a" font-size="12.1">self - heating</text>
<text x="374.2" y="390.2" fill="#10c6c8">T = 750 K</text>
<text x="307.3" y="440.6" fill="#1a3ad0">T = 300 K</text>
<text x="311.3" y="494.5" fill="#f51414">T = 300 K</text>
</g>
<g font-size="15" fill="#000">
<text x="82.9" y="297">(a)</text>
<text x="80.5" y="449.2">(b)</text>
</g>
</svg></body></html>
